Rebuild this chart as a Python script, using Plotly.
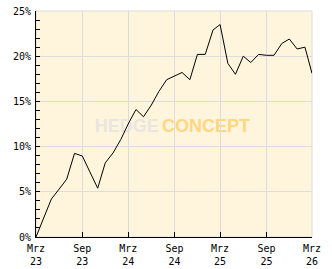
import plotly.graph_objects as go

months = [f"{2023 + (2 + i) // 12}-{(2 + i) % 12 + 1:02d}-01" for i in range(37)]
values = [0.0, 2.1, 4.2, 5.3, 6.4, 9.25, 8.96, 7.2, 5.4, 8.2, 9.3, 10.8, 12.5,
          14.1, 13.3, 14.6, 16.1, 17.4, 17.8, 18.2, 17.4, 20.2, 20.2, 22.9,
          23.5, 19.2, 18.0, 20.0, 19.3, 20.2, 20.1, 20.1, 21.4, 21.9, 20.8,
          21.0, 18.1]
tick_dates = ["2023-03-01", "2023-09-01", "2024-03-01", "2024-09-01",
              "2025-03-01", "2025-09-01", "2026-03-01"]
tick_labels = ["Mrz<br>23", "Sep<br>23", "Mrz<br>24", "Sep<br>24",
               "Mrz<br>25", "Sep<br>25", "Mrz<br>26"]
y_ticks = [0, 5, 10, 15, 20, 25]
y_labels = ["0%", "5%", "10%", "15%", "20%", "25%"]

font = dict(family="DejaVu Sans Mono", size=10, color="#000000")


def wm(text, color, x0, x1):
    return dict(type="line", xref="paper", yref="paper", x0=x0, x1=x1, y0=0.502, y1=0.502,
                line=dict(width=0), layer="between",
                label=dict(text=f"<b>{text}</b>",
                           font=dict(family="Liberation Sans", size=18, color=color),
                           textposition="middle", yanchor="middle", xanchor="center"))


fig = go.Figure()
fig.add_trace(go.Scatter(x=months, y=values, mode="lines",
                         line=dict(color="#000000", width=1), hoverinfo="skip"))

fig.update_layout(
    width=332, height=269,
    margin=dict(l=36, r=20, t=11, b=32),
    paper_bgcolor="#ffffff",
    plot_bgcolor="#fff5dd",
    showlegend=False,
    font=font,
    xaxis=dict(type="date", range=[tick_dates[0], tick_dates[-1]],
               tickvals=tick_dates, ticktext=tick_labels,
               showgrid=True, gridcolor="#dcdcdc", gridwidth=1,
               showline=True, linecolor="#000000", linewidth=1,
               ticks="inside", ticklen=5, tickcolor="#000000",
               tickfont=font, zeroline=False, automargin=False,
               ticklabelstandoff=2),
    yaxis=dict(range=[0, 25], tickvals=y_ticks, ticktext=y_labels,
               showgrid=True, gridcolor="#dcdcdc", gridwidth=1,
               showline=True, linecolor="#000000", linewidth=1,
               ticks="inside", ticklen=4, tickcolor="#000000",
               minor=dict(dtick=1, ticks="inside", ticklen=4,
                          tickcolor="#000000", showgrid=False),
               tickfont=font, zeroline=False, ticklabelstandoff=2,
               automargin=False),
    shapes=[
        dict(type="rect", xref="x domain", yref="y domain", x0=0, x1=1, y0=0, y1=1,
             line=dict(color="#dcdcdc", width=1), layer="below"),
        wm("HEDGE", "#e8e6df", 0.229, 0.429),
        wm("CONCEPT", "#ffd682", 0.516, 0.716),
    ],
)

fig.write_html("out.html")
